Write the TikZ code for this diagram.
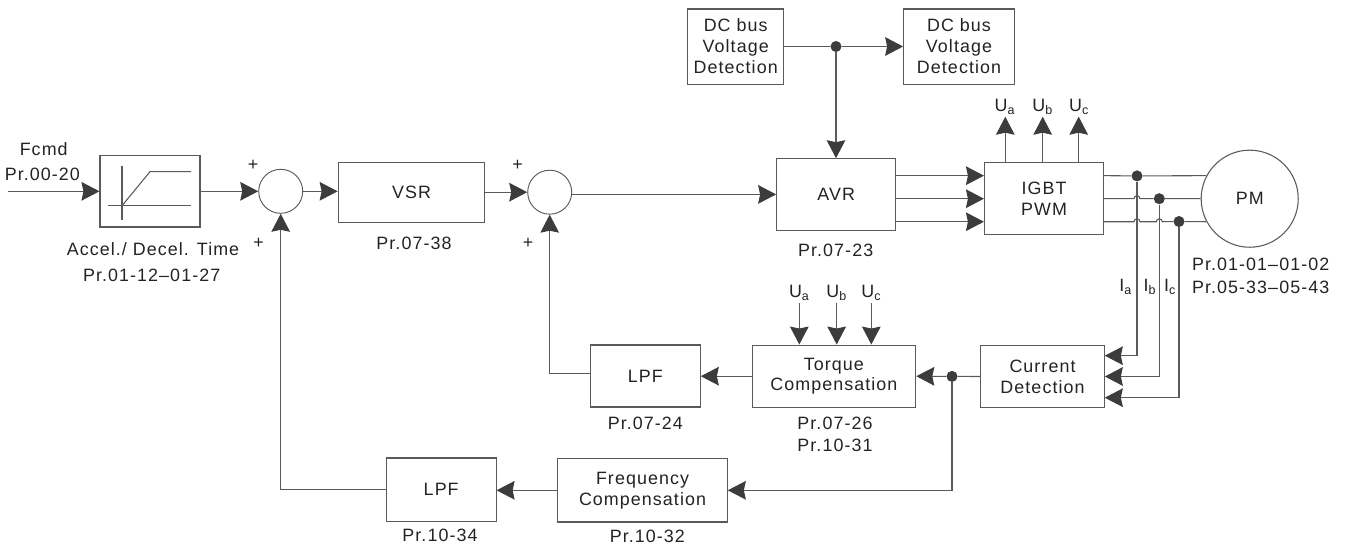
\documentclass[tikz,border=0pt]{standalone}
\usepackage{fontspec}
\setmainfont[LetterSpace=6]{Liberation Sans}
\usetikzlibrary{positioning,arrows.meta,calc}
\definecolor{driveLine}{RGB}{90,90,90}
\definecolor{driveTip}{RGB}{60,60,60}
\definecolor{driveText}{RGB}{35,35,35}
\tikzset{
  driveFont/.style={font=\fontsize{13.4}{15.7}\selectfont,text=driveText},
  block/.style={draw=driveLine,fill=white,line width=0.8pt,inner sep=0pt,align=center,driveFont},
  sumCircle/.style={circle,draw=driveLine,fill=white,line width=0.7pt,inner sep=0pt,minimum size=33pt},
  joint/.style={circle,fill=driveTip,inner sep=0pt,minimum size=8.3pt},
  tag/.style={inner sep=0pt,align=center,driveFont},
  wire/.style={draw=driveLine,line width=0.8pt},
  flow/.style={wire,-{Stealth[length=13.5pt,width=14pt,inset=1.5pt,color=driveTip]}}
}
\begin{document}
\begin{tikzpicture}[x=0.75pt,y=-0.75pt]
    \useasboundingbox (0,0) rectangle (1347,546);
    % blocks
    \node[block,minimum width=75pt,minimum height=53.5pt] (ramp) at (150,191.3) {};
    \node[block,minimum width=110pt,minimum height=44.8pt] (vsr) at (411.5,192.2) {VSR};
    \node[block,minimum width=89.3pt,minimum height=53.5pt] (avr) at (836.2,194.4) {AVR};
    \node[block,minimum width=89.3pt,minimum height=53.7pt] (igbt) at (1044,198.5) {IGBT\\PWM};
    \node[block,minimum width=92.7pt,minimum height=46.2pt] (current) at (1042.5,376.5) {Current\\Detection};
    \node[block,minimum width=122.8pt,minimum height=46.7pt] (torque) at (833.9,376.2) {Torque\\Compensation};
    \node[block,minimum width=82.5pt,minimum height=46.5pt] (lpfA) at (645.3,376) {LPF};
    \node[block,minimum width=82.3pt,minimum height=47.3pt] (lpfB) at (441.2,489.5) {LPF};
    \node[block,minimum width=127.2pt,minimum height=47.5pt] (freq) at (642.5,490.3) {Frequency\\Compensation};
    \node[block,minimum width=72pt,minimum height=56.3pt] (dcA) at (735.7,46.5) {DC bus\\Voltage\\Detection};
    \node[block,minimum width=83pt,minimum height=56.3pt] (dcB) at (959,46.5) {DC bus\\Voltage\\Detection};
    \node[sumCircle] (sumA) at (280.7,191.3) {};
    \node[sumCircle] (sumB) at (549.7,192.2) {};
    \node[block,circle,minimum size=72.8pt] (pm) at (1249.7,198.7) {PM};
    % ramp symbol
    \draw[wire] (122,165.7) -- (122,220);
    \draw[wire] (107.7,205.7) -- (191,205.7);
    \draw[wire] (122,205.7) -- (150,171.7) -- (191,171.7);
    % joints
    \node[joint] (dotDc) at (836,46.5) {};
    \node[joint] (dotA) at (1137,175.9) {};
    \node[joint] (dotB) at (1159.3,198.7) {};
    \node[joint] (dotC) at (1179,221.5) {};
    \node[joint] (dotT) at (952,376.4) {};
    % free ends
    \coordinate (start) at (8,191.3);
    \foreach \x/\y/\name in {1005.3/116.7/upA,1042.7/116.7/upB,1078.7/116.7/upC,
                             799.3/303/inA,836.7/303/inB,871.3/303/inC}
      {\coordinate (\name) at (\x,\y);}
    % texts
    \foreach \x/\y/\name/\txt in {43.7/149/tFcmd/Fcmd,42.3/174/tIn/Pr.00-20,
                                  153/249.3/tAccel/{Accel./ Decel. Time},151.7/275.7/tAccelPr/Pr.01-12--01-27,
                                  414/243.7/tVsr/Pr.07-38,835.7/250/tAvr/Pr.07-23,
                                  645.3/423.3/tLpfA/Pr.07-24,835/423/tTorqueA/Pr.07-26,835/445.7/tTorqueB/Pr.10-31,
                                  440/535/tLpfB/Pr.10-34,647.3/536/tFreq/Pr.10-32,
                                  1260.7/264/tPmA/Pr.01-01--01-02,1260.7/287.7/tPmB/Pr.05-33--05-43,
                                  253/165/tPlusA/+,258.7/243.3/tPlusB/+,517.7/165/tPlusC/+,528/243.7/tPlusD/+}
      {\node[tag] (\name) at (\x,\y) {\txt};}
    \foreach \x/\y/\name/\txt in {1005/106.7/tUa/U\textsubscript{a},1042.7/106.7/tUb/U\textsubscript{b},1079/106.7/tUc/U\textsubscript{c},
                                  799.3/292.7/tUd/U\textsubscript{a},836.7/292.7/tUe/U\textsubscript{b},871.3/292.7/tUf/U\textsubscript{c},
                                  1125.7/286.7/tIa/I\textsubscript{a},1150/286.7/tIb/I\textsubscript{b},1170/286.7/tIc/I\textsubscript{c}}
      {\node[tag] (\name) at (\x,\y) {\txt};}
    % forward path
    \draw[flow] (start) -- (ramp.west);
    \draw[flow] (ramp.east) -- (sumA.west);
    \draw[flow] (sumA.east) -- (vsr.west |- sumA.east);
    \draw[flow] (vsr.east) -- (sumB.west);
    \draw[flow] (sumB.east |- avr.west) -- (avr.west);
    \draw[wire] (dcA.east) -- (dotDc);
    \draw[flow] (dotDc) -- (dcB.west);
    \draw[flow] (dotDc) -- (avr.north -| dotDc);
    \foreach \a in {152,180,208}
      {\draw[flow] (avr.east |- pm.\a) -- (igbt.west |- pm.\a);}
    \foreach \name in {upA,upB,upC}
      {\draw[flow] (igbt.north -| \name) -- (\name);}
    \foreach \name in {inA,inB,inC}
      {\draw[flow] (\name) -- (\name |- torque.north);}
    % motor lines
    \draw[wire] (igbt.east |- pm.152) -- (dotA) -- (pm.152);
    \draw[wire] (igbt.east |- pm.180) -- ($(dotA |- pm.180)+(-3,0)$)
      arc[start angle=180,end angle=360,radius=3] -- (dotB) -- (pm.180);
    \draw[wire] (igbt.east |- pm.208) -- ($(dotA |- pm.208)+(-3,0)$)
      arc[start angle=180,end angle=360,radius=3] -- ($(dotB |- pm.208)+(-3,0)$)
      arc[start angle=180,end angle=360,radius=3] -- (dotC) -- (pm.208);
    % current feedback
    \draw[flow] (dotA) |- ([yshift=15.6pt]current.east);
    \draw[flow] (dotB) |- (current.east);
    \draw[flow] (dotC) |- ([yshift=-15.9pt]current.east);
    \draw[wire] (current.west) -- (dotT);
    \draw[flow] (dotT) -- (torque.east);
    \draw[flow] (torque.west) -- (lpfA.east |- torque.west);
    \draw[flow] ([yshift=2pt]lpfA.west) -| (sumB.south);
    \draw[flow] (dotT) |- (freq.east);
    \draw[flow] (freq.west) -- (lpfB.east |- freq.west);
    \draw[flow] (lpfB.west) -| (sumA.south);
\end{tikzpicture}
\end{document}
